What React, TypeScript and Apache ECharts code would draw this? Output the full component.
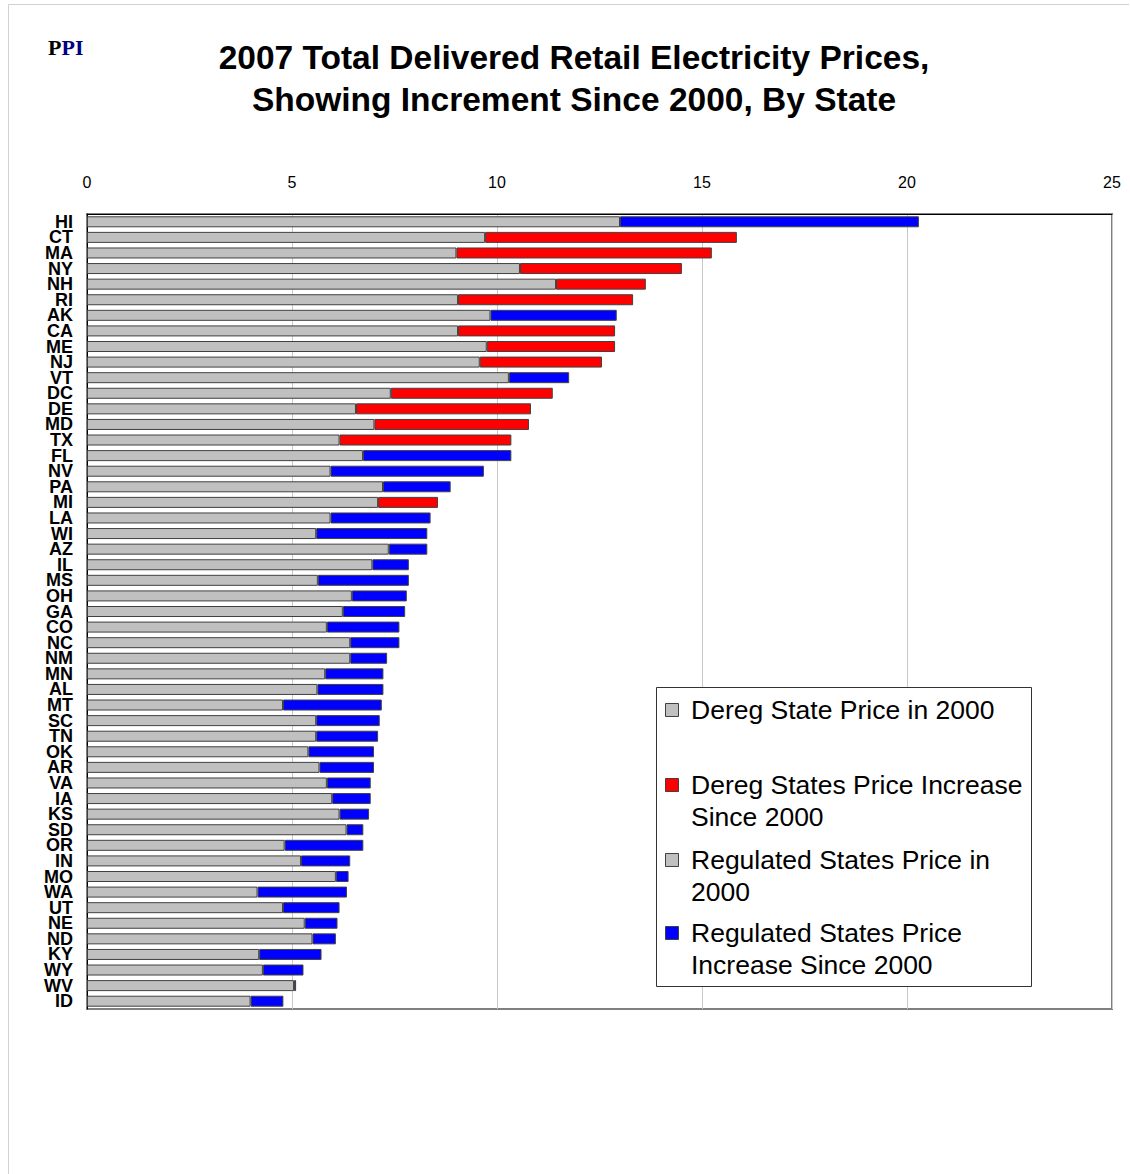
import React, { useEffect, useRef } from "react";
import * as echarts from "echarts";

const states = ["HI","CT","MA","NY","NH","RI","AK","CA","ME","NJ","VT","DC","DE","MD","TX","FL","NV","PA","MI","LA","WI","AZ","IL","MS","OH","GA","CO","NC","NM","MN","AL","MT","SC","TN","OK","AR","VA","IA","KS","SD","OR","IN","MO","WA","UT","NE","ND","KY","WY","WV","ID"];
const price2000 = [13.0,9.71,9.01,10.56,11.44,9.05,9.84,9.05,9.75,9.58,10.29,7.41,6.56,7.01,6.16,6.73,5.94,7.22,7.10,5.94,5.59,7.36,6.96,5.63,6.46,6.24,5.85,6.42,6.42,5.81,5.62,4.78,5.59,5.59,5.40,5.67,5.85,5.98,6.16,6.33,4.82,5.22,6.07,4.16,4.78,5.31,5.50,4.20,4.29,5.05,3.99];
const increase = [7.29,6.14,6.23,3.95,2.19,4.27,3.08,3.83,3.13,2.98,1.47,3.95,4.27,3.77,4.19,3.62,3.74,1.65,1.46,2.44,2.71,0.94,0.89,2.22,1.34,1.52,1.77,1.20,0.90,1.42,1.61,2.41,1.55,1.51,1.60,1.33,1.07,0.94,0.72,0.41,1.92,1.20,0.31,2.18,1.38,0.80,0.57,1.52,0.99,0.05,0.80];
const deregStates = ["CT","MA","NY","NH","RI","CA","ME","NJ","DC","DE","MD","TX","MI"];
const xTicks = [0, 5, 10, 15, 20, 25];
const seriesNames = [
  "Dereg State Price in 2000",
  "Dereg States Price Increase Since 2000",
  "Regulated States Price in 2000",
  "Regulated States Price Increase Since 2000",
];
const legendLines = [
  "Dereg State Price in 2000",
  "Dereg States Price Increase\nSince 2000",
  "Regulated States Price in\n2000",
  "Regulated States Price\nIncrease Since 2000",
];
const seriesColors = ["#C0C0C0", "#FF0000", "#C0C0C0", "#0000FF"];

const FONT = "'Liberation Sans', Arial, sans-serif";

export default function App() {
  const ref = useRef<HTMLDivElement>(null);
  useEffect(() => {
    if (!ref.current) return;
    const chart = echarts.init(ref.current, null, { renderer: "svg" });
    const isDereg = states.map((s) => deregStates.includes(s));
    const dataSets = [
      price2000.map((v, i) => (isDereg[i] ? v : "-")),
      increase.map((v, i) => (isDereg[i] ? v : "-")),
      price2000.map((v, i) => (!isDereg[i] ? v : "-")),
      increase.map((v, i) => (!isDereg[i] ? v : "-")),
    ];
    const series = dataSets.map((d, k) => ({
      name: seriesNames[k],
      type: "bar",
      stack: "total",
      barWidth: 11,
      data: d,
      itemStyle: { color: seriesColors[k], borderColor: "#404040", borderWidth: 1 },
    }));

    const legendX = 656;
    const legendY = 687;
    const entryCenters = [710, 785, 860, 933];
    const legendGraphics: any[] = [
      {
        type: "rect",
        shape: { x: legendX + 0.5, y: legendY + 0.5, width: 375, height: 299 },
        style: { fill: "#fff", stroke: "#333", lineWidth: 1 },
        z: 100,
      },
    ];
    entryCenters.forEach((cy, k) => {
      legendGraphics.push({
        type: "rect",
        shape: { x: 665.5, y: cy - 7 + 0.5, width: 13, height: 13 },
        style: { fill: seriesColors[k], stroke: "#404040", lineWidth: 1 },
        z: 101,
      });
      legendGraphics.push({
        type: "text",
        x: 691,
        y: cy - 16,
        style: {
          text: legendLines[k],
          font: `26.5px ${FONT}`,
          fill: "#000",
          lineHeight: 32,
          textAlign: "left",
          textVerticalAlign: "top",
        },
        z: 101,
      });
    });

    chart.setOption({
      animation: false,
      backgroundColor: "#fff",
      grid: {
        left: 87,
        top: 214,
        width: 1025,
        height: 795,
        show: true,
        borderColor: "#808080",
        borderWidth: 2,
        backgroundColor: "transparent",
      },
      xAxis: {
        type: "value",
        position: "top",
        min: xTicks[0],
        max: xTicks[xTicks.length - 1],
        interval: 5,
        axisLine: { show: true, lineStyle: { color: "#000", width: 1 } },
        axisTick: { show: false },
        axisLabel: { color: "#000", fontSize: 16, fontFamily: FONT, margin: 24 },
        splitLine: { show: true, lineStyle: { color: "#C8C8C8", width: 1 } },
      },
      yAxis: {
        type: "category",
        data: states,
        inverse: true,
        axisLine: { show: true, lineStyle: { color: "#000", width: 1 } },
        axisTick: { show: false },
        axisLabel: {
          interval: 0,
          color: "#000",
          fontSize: 18,
          lineHeight: 15,
          fontWeight: "bold",
          fontFamily: FONT,
          margin: 14,
        },
        splitLine: { show: false },
      },
      series,
      graphic: [
        {
          type: "polyline",
          shape: { points: [[8.5, 1174], [8.5, 4.5], [1129, 4.5]] },
          style: { stroke: "#D0D0D0", lineWidth: 1, fill: "none" },
        },
        {
          type: "text",
          x: 48,
          y: 47,
          style: {
            text: "{a|P}{b|PI}",
            rich: {
              a: { fontFamily: "'Liberation Serif', 'Times New Roman', serif", fontWeight: "bold", fontSize: 22, fill: "#000" },
              b: { fontFamily: "'Liberation Serif', 'Times New Roman', serif", fontWeight: "bold", fontSize: 22, fill: "#000080" },
            },
            textAlign: "left",
            textVerticalAlign: "middle",
          },
        },
        {
          type: "text",
          x: 574,
          y: 57,
          style: {
            text: "2007 Total Delivered Retail Electricity Prices,",
            font: `bold 33.5px ${FONT}`,
            fill: "#000",
            textAlign: "center",
            textVerticalAlign: "middle",
          },
        },
        {
          type: "text",
          x: 574,
          y: 99,
          style: {
            text: "Showing Increment Since 2000, By State",
            font: `bold 33.5px ${FONT}`,
            fill: "#000",
            textAlign: "center",
            textVerticalAlign: "middle",
          },
        },
        ...legendGraphics,
      ],
    });
    return () => chart.dispose();
  }, []);
  return (
    <div
      ref={ref}
      style={{ position: "absolute", left: 0, top: 0, width: 1130, height: 1174 }}
    />
  );
}
